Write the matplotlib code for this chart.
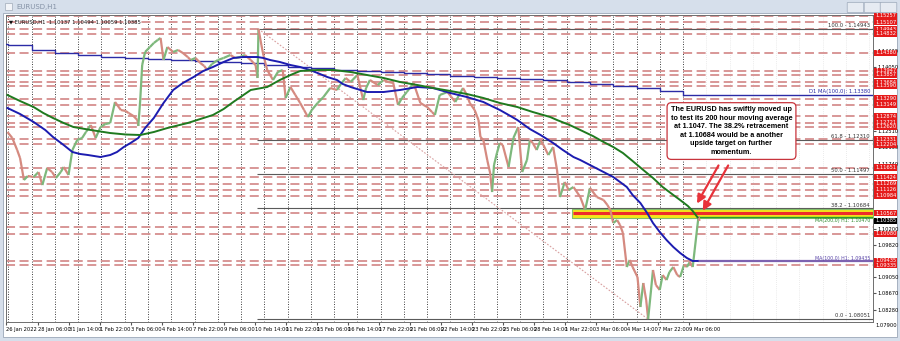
import matplotlib
matplotlib.use("Agg")
import matplotlib.pyplot as plt
import matplotlib.patches as mpatches
import matplotlib.transforms as mtransforms
from matplotlib.collections import LineCollection
import numpy as np

# H1 bars, weekends skipped; bar 0 = 26 Jan 2022 22:00
tick_bars = list(range(0, 705, 32))
tick_labels = ["26 Jan 2022", "28 Jan 06:00", "31 Jan 14:00", "1 Feb 22:00", "3 Feb 06:00",
               "4 Feb 14:00", "7 Feb 22:00", "9 Feb 06:00", "10 Feb 14:00", "11 Feb 22:00",
               "15 Feb 06:00", "16 Feb 14:00", "17 Feb 22:00", "21 Feb 06:00", "22 Feb 14:00",
               "23 Feb 22:00", "25 Feb 06:00", "28 Feb 14:00", "1 Mar 22:00", "3 Mar 06:00",
               "4 Mar 14:00", "7 Mar 22:00", "9 Mar 06:00"]

# price path (bar, price)
px_bar = [1, 6, 11, 14, 18, 22, 28, 33, 37, 42, 47, 51, 56, 59, 64, 68, 73, 78, 82, 87,
          92, 97, 102, 107, 112, 118, 123, 126, 131, 135, 136, 138, 140, 143, 148, 152, 156, 159, 162, 166,
          172, 177, 182, 187, 190, 195, 200, 204, 207, 212, 218, 224, 231, 236, 241, 246, 252, 257, 259, 260,
          263, 265, 269, 275, 280, 285, 288, 293, 298, 303, 307, 311, 315, 321, 327, 334, 341, 345, 350, 355,
          362, 368, 371, 375, 383, 389, 394, 399, 404, 408, 413, 420, 427, 434, 439, 442, 447, 455, 459, 463,
          471, 475, 478, 483, 487, 489, 492, 496, 499, 501, 503, 506, 509, 512, 518, 523, 528, 532, 537, 540,
          543, 547, 551, 554, 559, 564, 568, 571, 576, 580, 585, 592, 597, 602, 609, 616, 620, 623, 626, 630,
          633, 636, 640, 643, 646, 651, 654, 657, 660, 662, 665, 667, 670, 674, 677, 681, 684, 688, 692, 695,
          699, 702, 705, 708, 710, 712, 714, 715]
px_val = [1.12497, 1.12355, 1.12070, 1.11880, 1.11357, 1.11452, 1.11428, 1.11547, 1.11238, 1.11642,
          1.11547, 1.11405, 1.11547, 1.11666, 1.11476, 1.12070, 1.12307, 1.12355, 1.12497, 1.12663,
          1.12355, 1.12616, 1.12687, 1.12711, 1.13210, 1.13020, 1.12996, 1.12948, 1.12877, 1.12782,
          1.12640, 1.13257, 1.14088, 1.14397, 1.14516, 1.14611, 1.14682, 1.14730, 1.14207, 1.14516,
          1.14397, 1.14445, 1.14373, 1.14278, 1.14207, 1.14255, 1.14136, 1.14065, 1.13970, 1.14112,
          1.14207, 1.14255, 1.14326, 1.14255, 1.14278, 1.14326, 1.14207, 1.14088, 1.13780, 1.14943,
          1.14563, 1.14326, 1.13970, 1.13732, 1.13922, 1.13970, 1.13305, 1.13566, 1.13376, 1.13186,
          1.13020, 1.12853, 1.13020, 1.13186, 1.13328, 1.13542, 1.13495, 1.13637, 1.13780, 1.13685,
          1.13851, 1.13257, 1.13542, 1.13732, 1.13613, 1.13732, 1.13685, 1.13661, 1.13138, 1.13305,
          1.13447, 1.13661, 1.13186, 1.13091, 1.12972, 1.12901, 1.13376, 1.13447, 1.13328, 1.13210,
          1.13542, 1.13376, 1.13186, 1.13020, 1.12782, 1.12378, 1.12307, 1.11832, 1.11523, 1.11072,
          1.11713, 1.11998, 1.12236, 1.12188, 1.11666, 1.12355, 1.12616, 1.11547, 1.11832, 1.12307,
          1.12236, 1.12070, 1.12307, 1.12188, 1.11951, 1.12141, 1.11595, 1.10953, 1.11310, 1.11120,
          1.11191, 1.10953, 1.10645, 1.11167, 1.10953, 1.10882, 1.10763, 1.10645, 1.10336, 1.10407,
          1.10288, 1.10098, 1.09291, 1.09457, 1.09291, 1.09054, 1.08341, 1.08911, 1.08507, 1.08056,
          1.08745, 1.09220, 1.08864, 1.08745, 1.09101, 1.08982, 1.09172, 1.09291, 1.09101, 1.09054,
          1.09339, 1.09291, 1.09410, 1.09291, 1.09695, 1.10098, 1.10494, 1.10385]

# 100 hour MA (blue)
ma100_bar = [1, 14, 28, 40, 48, 59, 68, 76, 84, 97, 107, 114, 121, 128, 136, 143, 152, 162, 172, 182,
             193, 203, 213, 224, 234, 244, 259, 265, 272, 282, 293, 303, 313, 321, 331, 341, 347, 355, 365, 372,
             389, 406, 424, 440, 458, 475, 492, 509, 520, 527, 540, 551, 564, 574, 585, 592, 602, 612, 626, 633,
             640, 646, 654, 661, 667, 674, 681, 688, 695, 702, 708, 713]
ma100_val = [1.13067, 1.12925, 1.12735, 1.12545, 1.12378, 1.12188, 1.12022, 1.11975, 1.11951, 1.11903,
             1.11951, 1.12022, 1.12141, 1.12236, 1.12355, 1.12592, 1.12830, 1.13186, 1.13495, 1.13661,
             1.13803, 1.13946, 1.14041, 1.14160, 1.14255, 1.14278, 1.14278, 1.14255, 1.14207, 1.14160,
             1.14088, 1.14041, 1.13970, 1.13898, 1.13803, 1.13732, 1.13637, 1.13566, 1.13495, 1.13447,
             1.13447, 1.13495, 1.13566, 1.13542, 1.13423, 1.13328, 1.13210, 1.13020, 1.12877, 1.12782,
             1.12568, 1.12426, 1.12236, 1.12070, 1.11903, 1.11832, 1.11713, 1.11595, 1.11428, 1.11310,
             1.11191, 1.11001, 1.10811, 1.10573, 1.10336, 1.10122, 1.09932, 1.09766, 1.09624, 1.09505,
             1.09434, 1.09435]

# 200 hour MA (green)
ma200_bar = [1, 14, 28, 38, 48, 59, 69, 87, 107, 123, 138, 152, 166, 187, 200, 213, 224, 234, 252, 269,
             282, 293, 303, 321, 337, 355, 372, 389, 406, 424, 440, 458, 475, 492, 509, 527, 543, 561, 568, 581,
             592, 605, 616, 626, 636, 646, 657, 667, 677, 688, 695, 703, 708, 713]
ma200_val = [1.13376, 1.13233, 1.13091, 1.12948, 1.12830, 1.12711, 1.12616, 1.12545, 1.12473, 1.12438,
             1.12426, 1.12497, 1.12592, 1.12711, 1.12806, 1.12901, 1.13043, 1.13210, 1.13495, 1.13566,
             1.13732, 1.13851, 1.13946, 1.13970, 1.13970, 1.13922, 1.13851, 1.13780, 1.13685, 1.13613,
             1.13542, 1.13471, 1.13400, 1.13305, 1.13186, 1.13091, 1.12972, 1.12853, 1.12782, 1.12663,
             1.12545, 1.12402, 1.12260, 1.12141, 1.11998, 1.11808, 1.11595, 1.11405, 1.11191, 1.11001,
             1.10882, 1.10740, 1.10621, 1.10470]

# daily 100 MA, one value per trading day
d1_start = [0] + list(range(2, 699, 24))
d1_val = [1.14587, 1.14563, 1.14445, 1.14373, 1.14326, 1.14278, 1.14255, 1.14231, 1.14207, 1.14183,
          1.14160, 1.14136, 1.14088, 1.14041, 1.14017, 1.13970, 1.13946, 1.13922, 1.13898, 1.13875,
          1.13827, 1.13803, 1.13780, 1.13756, 1.13732, 1.13685, 1.13637, 1.13590, 1.13542, 1.13471,
          1.13380]

red_levels = [1.15257, 1.15107, 1.14943, 1.14832, 1.14380, 1.13947, 1.13857, 1.13684, 1.13590, 1.13290,
              1.13149, 1.12874, 1.12721, 1.12620, 1.12331, 1.12204, 1.11651, 1.11424, 1.11269, 1.11126,
              1.10984, 1.10567, 1.10080, 1.09435, 1.09335]
extra_dash = [1.10245]
plain_ticks = [1.08280, 1.08670, 1.09050, 1.09820, 1.10200, 1.11740, 1.12130, 1.12510,
               1.14050, 1.14430]

fib_pct = ["100.0", "61.8", "50.0", "38.2", "0.0"]
fib_val = [1.14943, 1.12310, 1.11497, 1.10684, 1.08051]
fib_high_bar, fib_low_bar = 260, 662

ma200_now = 1.10470
ma100_now = 1.09435
last_price = 1.10385

note = ("The EURUSD has swiftly moved up\nto test its 200 hour moving average\n"
        "at 1.1047. The 38.2% retracement\nat 1.10684 would be a another\n"
        "upside target on further\nmomentum.")

W, H = 900, 341
fig = plt.figure(figsize=(W / 100, H / 100), dpi=100, facecolor="#d6dfeb")

# window chrome
fig.patches.append(mpatches.Rectangle((3 / W, 1 - 337 / H), 894 / W, 324 / H,
                                      transform=fig.transFigure, facecolor="white",
                                      edgecolor="#9aa7b8", lw=0.6, zorder=-5))
fig.patches.append(mpatches.Rectangle((5 / W, 1 - 10 / H), 7 / W, 7 / H, transform=fig.transFigure,
                                      facecolor="#f2f4f8", edgecolor="#a0aab8", lw=0.5))
fig.text(16 / W, 1 - 6.5 / H, "EURUSD,H1", fontsize=5, color="#8592a6", va="center")
for bx in (849, 866, 882):
    fig.patches.append(mpatches.FancyBboxPatch((bx / W, 1 - 12 / H), 13 / W, 9 / H,
                                               boxstyle="round,pad=0.002", transform=fig.transFigure,
                                               facecolor="#e6ebf2", edgecolor="#9aa7b8", lw=0.5))

ax = fig.add_axes([6 / W, 1 - 322 / H, 867 / W, 307 / H])
xmax = 894
ax.set_xlim(-0.5, xmax)
ax.set_ylim(1.07985, 1.15276)
ax.set_facecolor("white")
for sp in ax.spines.values():
    sp.set_color("#6e6e6e")
    sp.set_linewidth(0.7)

# day separators
for d in d1_start[1:]:
    ax.axvline(d, color="black", ls=(0, (1, 2)), lw=0.6, zorder=1)
for d in range(722, xmax, 24):
    ax.axvline(d, color="#d8d8d8", ls=(0, (1, 2)), lw=0.5, zorder=1)

# red dashed levels
for lv in red_levels + extra_dash:
    ax.axhline(lv, color="#d58f8f", ls=(0, (5, 2.5)), lw=1.3, zorder=2)

# fib lines
for pct, v in zip(fib_pct, fib_val):
    ax.hlines(v, fib_high_bar - 2, xmax, color="#5a5a5a", lw=0.8, zorder=3)
    ax.text(xmax - 3, v + 0.0002, f"{pct} - {v:.5f}", fontsize=3.8, ha="right", va="bottom",
            color="#333333", zorder=6)
ax.plot([fib_high_bar, fib_low_bar], [fib_val[0], fib_val[-1]], color="#d9a0a0",
        ls=(0, (1.5, 1.5)), lw=0.8, zorder=3)

# support / resistance band
ax.fill_between([583, xmax], 1.10458, 1.10668, color="#f3e61a", edgecolor="#82c06a",
                lw=0.8, zorder=4)
ax.hlines(1.10567, 585, xmax, color="#ee2b2b", lw=2.2, zorder=5)
ax.hlines(ma200_now, 713, xmax, color="#2e9a2e", lw=1.0, zorder=5)
ax.hlines(ma100_now, 713, xmax, color="#7d62b0", lw=1.6, zorder=5)
ax.text(xmax - 3, ma200_now - 0.00005, "MA(200,0) H1: 1.10470", fontsize=3.4, ha="right",
        va="top", color="#2e8a2e", zorder=6)
ax.text(xmax - 3, ma100_now + 0.0001, "MA(100,0) H1: 1.09435", fontsize=3.4, ha="right",
        va="bottom", color="#5a45a8", zorder=6)

# daily MA
ax.step(d1_start, d1_val, where="post", color="#2b2ba6", lw=1.0, zorder=6)
ax.hlines(d1_val[-1], d1_start[-1], xmax, color="#2b2ba6", lw=1.0, zorder=6)
ax.text(xmax - 3, d1_val[-1] + 0.0002, "D1 MA(100,0): 1.13380", fontsize=3.8, ha="right",
        va="bottom", color="#2b2ba6", zorder=6)

# price
pts = np.column_stack([px_bar, px_val])
segs = np.stack([pts[:-1], pts[1:]], axis=1)
up = np.diff(px_val) >= 0
cols = np.where(up, "#7db87c", "#d58a80")
ax.add_collection(LineCollection(segs, colors=cols, lw=1.6, zorder=7))

ax.plot(ma100_bar, ma100_val, color="#1c1cb0", lw=1.4, zorder=8)
ax.plot(ma200_bar, ma200_val, color="#1f7a1f", lw=1.4, zorder=8)

# note box + arrows
ax.text(748, 1.1252, note, fontsize=5.2, fontweight="bold", family="Liberation Sans",
        ha="center", va="center", linespacing=1.3, zorder=12,
        bbox=dict(boxstyle="round,pad=0.5,rounding_size=0.6", facecolor="white",
                  edgecolor="#c8343c", lw=0.9))
arrow_kw = dict(arrowstyle="-|>,head_length=0.5,head_width=0.25", color="#e8323a", lw=1.6)
ax.annotate("", xy=(711, 1.1074), xytext=(736, 1.1176), arrowprops=arrow_kw, zorder=11)
ax.annotate("", xy=(717, 1.1057), xytext=(746, 1.1176), arrowprops=arrow_kw, zorder=11)

# axes ticks
ax.set_xticks(tick_bars, tick_labels, fontsize=3.7, ha="left")
ax.tick_params(axis="x", length=2, pad=1.5, color="#555555")
ax.yaxis.tick_right()
ax.set_yticks(plain_ticks, [f"{v:.5f}" for v in plain_ticks], fontsize=3.7)
ax.tick_params(axis="y", length=2, pad=1.5, color="#555555")
trans = mtransforms.blended_transform_factory(ax.transAxes, ax.transData)
ax.text(1.0025, 1.07900, "1.07900", fontsize=3.7, va="center", ha="left",
        transform=trans, clip_on=False)

for lv in red_levels:
    ax.text(1.0025, lv, f"{lv:.5f}", fontsize=3.7, color="white", va="center", ha="left",
            transform=trans, clip_on=False, zorder=20,
            bbox=dict(facecolor="#e51b1b", edgecolor="none", pad=0.5))
ax.text(1.0025, last_price, f"{last_price:.5f}", fontsize=3.7, color="white", va="center",
        ha="left", transform=trans, clip_on=False, zorder=21,
        bbox=dict(facecolor="black", edgecolor="none", pad=0.5))

ax.text(0.004, 0.985, "\u25bc EURUSD,H1  1.10137 1.10494 1.10059 1.10385", fontsize=3.8,
        transform=ax.transAxes, va="top", ha="left", color="#111111", zorder=20)

fig.savefig("out.png", dpi=100, facecolor=fig.get_facecolor())
